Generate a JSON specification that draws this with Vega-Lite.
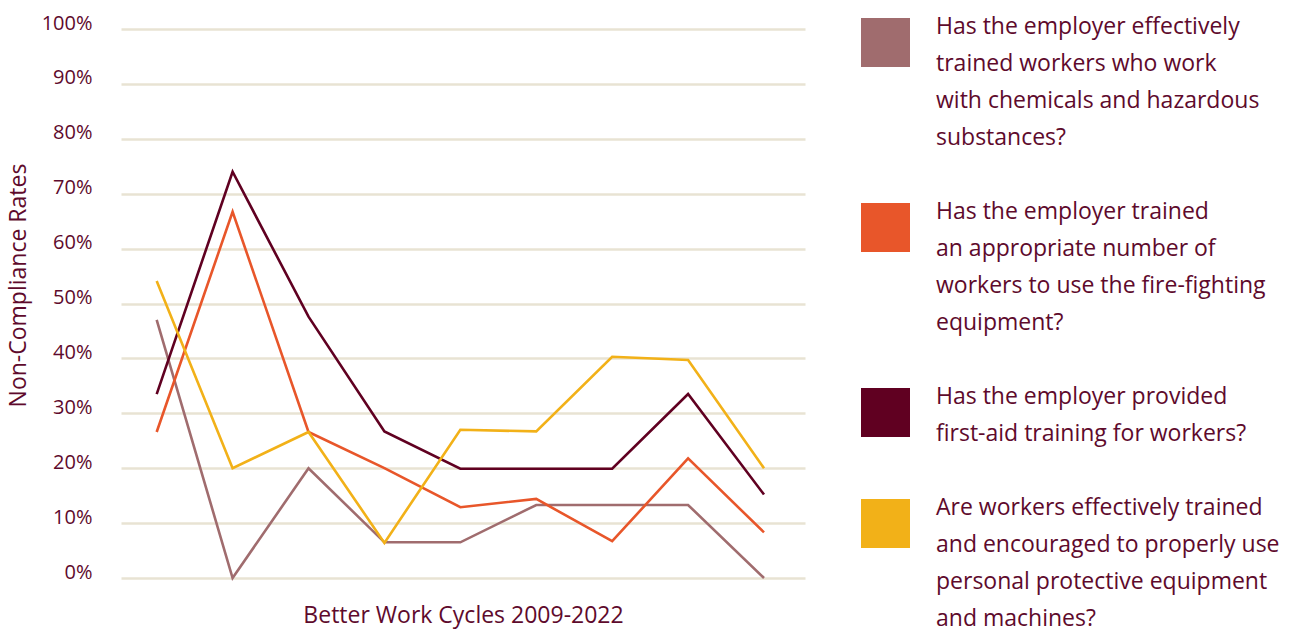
{
  "$schema": "https://vega.github.io/schema/vega-lite/v6.json",
  "width": 684,
  "height": 549,
  "autosize": "none",
  "padding": {"left": 121, "top": 29, "right": 491, "bottom": 55},
  "background": "#ffffff",
  "config": {
    "view": {"stroke": null},
    "font": "Open Sans"
  },
  "data": {
    "values": [
      {"cycle": 1, "series": "Has the employer effectively\ntrained workers who work\nwith chemicals and hazardous\nsubstances?", "rate": 47},
      {"cycle": 2, "series": "Has the employer effectively\ntrained workers who work\nwith chemicals and hazardous\nsubstances?", "rate": 0},
      {"cycle": 3, "series": "Has the employer effectively\ntrained workers who work\nwith chemicals and hazardous\nsubstances?", "rate": 20},
      {"cycle": 4, "series": "Has the employer effectively\ntrained workers who work\nwith chemicals and hazardous\nsubstances?", "rate": 6.5},
      {"cycle": 5, "series": "Has the employer effectively\ntrained workers who work\nwith chemicals and hazardous\nsubstances?", "rate": 6.5},
      {"cycle": 6, "series": "Has the employer effectively\ntrained workers who work\nwith chemicals and hazardous\nsubstances?", "rate": 13.3},
      {"cycle": 7, "series": "Has the employer effectively\ntrained workers who work\nwith chemicals and hazardous\nsubstances?", "rate": 13.3},
      {"cycle": 8, "series": "Has the employer effectively\ntrained workers who work\nwith chemicals and hazardous\nsubstances?", "rate": 13.3},
      {"cycle": 9, "series": "Has the employer effectively\ntrained workers who work\nwith chemicals and hazardous\nsubstances?", "rate": 0},
      {"cycle": 1, "series": "Has the employer trained\nan appropriate number of\nworkers to use the fire-fighting\nequipment?", "rate": 26.6},
      {"cycle": 2, "series": "Has the employer trained\nan appropriate number of\nworkers to use the fire-fighting\nequipment?", "rate": 66.7},
      {"cycle": 3, "series": "Has the employer trained\nan appropriate number of\nworkers to use the fire-fighting\nequipment?", "rate": 26.6},
      {"cycle": 4, "series": "Has the employer trained\nan appropriate number of\nworkers to use the fire-fighting\nequipment?", "rate": 20},
      {"cycle": 5, "series": "Has the employer trained\nan appropriate number of\nworkers to use the fire-fighting\nequipment?", "rate": 12.9},
      {"cycle": 6, "series": "Has the employer trained\nan appropriate number of\nworkers to use the fire-fighting\nequipment?", "rate": 14.4},
      {"cycle": 7, "series": "Has the employer trained\nan appropriate number of\nworkers to use the fire-fighting\nequipment?", "rate": 6.7},
      {"cycle": 8, "series": "Has the employer trained\nan appropriate number of\nworkers to use the fire-fighting\nequipment?", "rate": 21.8},
      {"cycle": 9, "series": "Has the employer trained\nan appropriate number of\nworkers to use the fire-fighting\nequipment?", "rate": 8.3},
      {"cycle": 1, "series": "Has the employer provided\nfirst-aid training for workers?", "rate": 33.5},
      {"cycle": 2, "series": "Has the employer provided\nfirst-aid training for workers?", "rate": 74},
      {"cycle": 3, "series": "Has the employer provided\nfirst-aid training for workers?", "rate": 47.6},
      {"cycle": 4, "series": "Has the employer provided\nfirst-aid training for workers?", "rate": 26.7},
      {"cycle": 5, "series": "Has the employer provided\nfirst-aid training for workers?", "rate": 19.9},
      {"cycle": 6, "series": "Has the employer provided\nfirst-aid training for workers?", "rate": 19.9},
      {"cycle": 7, "series": "Has the employer provided\nfirst-aid training for workers?", "rate": 19.9},
      {"cycle": 8, "series": "Has the employer provided\nfirst-aid training for workers?", "rate": 33.5},
      {"cycle": 9, "series": "Has the employer provided\nfirst-aid training for workers?", "rate": 15.2},
      {"cycle": 1, "series": "Are workers effectively trained\nand encouraged to properly use\npersonal protective equipment\nand machines?", "rate": 54.1},
      {"cycle": 2, "series": "Are workers effectively trained\nand encouraged to properly use\npersonal protective equipment\nand machines?", "rate": 20},
      {"cycle": 3, "series": "Are workers effectively trained\nand encouraged to properly use\npersonal protective equipment\nand machines?", "rate": 26.6},
      {"cycle": 4, "series": "Are workers effectively trained\nand encouraged to properly use\npersonal protective equipment\nand machines?", "rate": 6.4},
      {"cycle": 5, "series": "Are workers effectively trained\nand encouraged to properly use\npersonal protective equipment\nand machines?", "rate": 27},
      {"cycle": 6, "series": "Are workers effectively trained\nand encouraged to properly use\npersonal protective equipment\nand machines?", "rate": 26.7},
      {"cycle": 7, "series": "Are workers effectively trained\nand encouraged to properly use\npersonal protective equipment\nand machines?", "rate": 40.3},
      {"cycle": 8, "series": "Are workers effectively trained\nand encouraged to properly use\npersonal protective equipment\nand machines?", "rate": 39.7},
      {"cycle": 9, "series": "Are workers effectively trained\nand encouraged to properly use\npersonal protective equipment\nand machines?", "rate": 20}
    ]
  },
  "mark": {"type": "line", "strokeWidth": 2.6, "strokeJoin": "miter"},
  "encoding": {
    "x": {
      "field": "cycle",
      "type": "quantitative",
      "scale": {"domain": [0.53, 9.54], "nice": false, "zero": false},
      "axis": {
        "title": "Better Work Cycles 2009-2022",
        "labels": false,
        "ticks": false,
        "domain": false,
        "grid": false,
        "titleFont": "Open Sans",
        "titleFontSize": 23,
        "titleFontWeight": "normal",
        "titleColor": "#5E0A2C",
        "titleBaseline": "alphabetic",
        "titleY": 44
      }
    },
    "y": {
      "field": "rate",
      "type": "quantitative",
      "scale": {"domain": [0, 100], "nice": false},
      "axis": {
        "title": "Non-Compliance Rates",
        "values": [0, 10, 20, 30, 40, 50, 60, 70, 80, 90, 100],
        "labelExpr": "datum.value + '%'",
        "ticks": false,
        "domain": false,
        "grid": true,
        "gridColor": "#E8E3D3",
        "gridWidth": 2.5,
        "labelFont": "Open Sans",
        "labelFontSize": 20,
        "labelColor": "#5E0A2C",
        "labelPadding": 29,
        "labelOffset": -6,
        "labelBaseline": "middle",
        "titleFont": "Open Sans",
        "titleFontSize": 23,
        "titleFontWeight": "normal",
        "titleColor": "#5E0A2C",
        "titleAngle": -90,
        "titleAlign": "center",
        "titleBaseline": "alphabetic",
        "titleX": -96,
        "titleY": 256
      }
    },
    "color": {
      "field": "series",
      "type": "nominal",
      "scale": {
        "domain": [
          "Has the employer effectively\ntrained workers who work\nwith chemicals and hazardous\nsubstances?",
          "Has the employer trained\nan appropriate number of\nworkers to use the fire-fighting\nequipment?",
          "Has the employer provided\nfirst-aid training for workers?",
          "Are workers effectively trained\nand encouraged to properly use\npersonal protective equipment\nand machines?"
        ],
        "range": ["#A06C6E", "#E8562A", "#600021", "#F2B118"]
      },
      "legend": {
        "title": null,
        "orient": "none",
        "legendX": 740,
        "legendY": -11,
        "padding": 0,
        "direction": "vertical",
        "symbolType": "square",
        "symbolSize": 2401,
        "symbolStrokeWidth": 0,
        "symbolOpacity": 1,
        "labelFont": "Open Sans",
        "labelFontSize": 23,
        "labelColor": "#5E0A2C",
        "labelBaseline": "top",
        "labelOffset": 26,
        "labelLimit": 0,
        "rowPadding": 51,
        "labelExpr": "split(datum.label, '\\n')",
        "encode": {
          "symbols": {"update": {"fill": {"scale": "color", "field": "value"}, "fillOpacity": {"value": 1}}},
          "labels": {"update": {"y": {"value": -2}, "lineHeight": {"value": 37}}}
        }
      }
    }
  }
}
